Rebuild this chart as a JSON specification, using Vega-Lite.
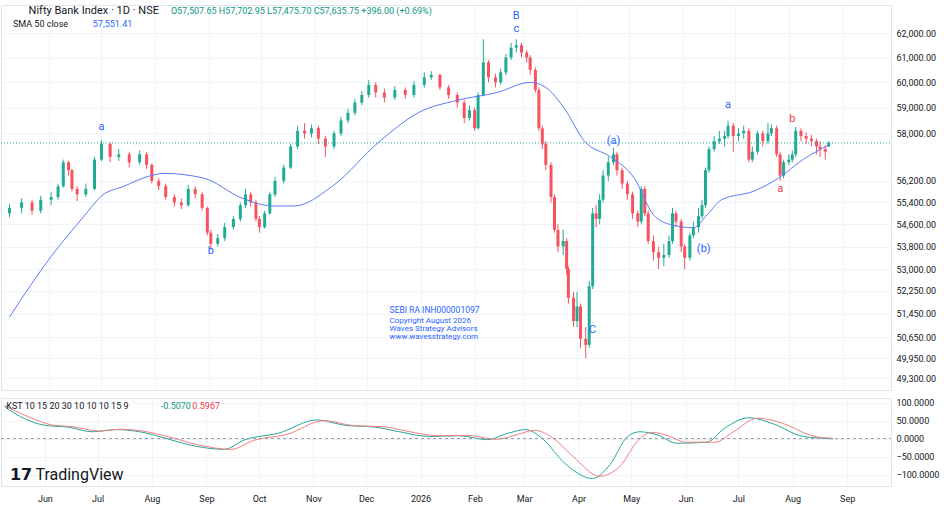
{
  "$schema": "https://vega.github.io/schema/vega-lite/v6.json",
  "padding": {"left": 0, "top": 4, "right": 0, "bottom": 0},
  "background": "white",
  "config": {
    "font": "Roboto",
    "view": {"stroke": "#e0e3eb"},
    "axis": {"gridColor": "#f0f3fa", "domain": false, "ticks": false, "labelColor": "#131722", "labelFontSize": 9, "title": null}
  },
  "datasets": {
    "candles": [
      {"d":"2025-05-09","o":55000,"h":55350,"l":54850,"c":55200},
      {"d":"2025-05-16","o":55200,"h":55550,"l":55000,"c":55400},
      {"d":"2025-05-22","o":55400,"h":55500,"l":54950,"c":55100},
      {"d":"2025-05-27","o":55100,"h":55650,"l":55000,"c":55500},
      {"d":"2025-06-02","o":55500,"h":55800,"l":55300,"c":55600},
      {"d":"2025-06-06","o":55600,"h":56100,"l":55500,"c":56000},
      {"d":"2025-06-09","o":56000,"h":57000,"l":55950,"c":56900},
      {"d":"2025-06-12","o":56900,"h":56950,"l":56400,"c":56600},
      {"d":"2025-06-14","o":56600,"h":56650,"l":55800,"c":55900},
      {"d":"2025-06-17","o":55900,"h":56000,"l":55450,"c":55700},
      {"d":"2025-06-22","o":55700,"h":56100,"l":55600,"c":55900},
      {"d":"2025-06-27","o":55900,"h":57100,"l":55850,"c":57000},
      {"d":"2025-07-01","o":57000,"h":57750,"l":56950,"c":57600},
      {"d":"2025-07-06","o":57600,"h":57650,"l":56900,"c":57100},
      {"d":"2025-07-11","o":57100,"h":57400,"l":56950,"c":57200},
      {"d":"2025-07-17","o":57200,"h":57300,"l":56700,"c":56900},
      {"d":"2025-07-23","o":56900,"h":57350,"l":56800,"c":57200},
      {"d":"2025-07-27","o":57200,"h":57300,"l":56650,"c":56800},
      {"d":"2025-07-30","o":56800,"h":56850,"l":56100,"c":56200},
      {"d":"2025-08-03","o":56200,"h":56300,"l":55850,"c":56000},
      {"d":"2025-08-07","o":56000,"h":56100,"l":55500,"c":55600},
      {"d":"2025-08-12","o":55600,"h":55700,"l":55250,"c":55400},
      {"d":"2025-08-16","o":55400,"h":55550,"l":55150,"c":55300},
      {"d":"2025-08-20","o":55300,"h":56050,"l":55250,"c":55900},
      {"d":"2025-08-24","o":55900,"h":56000,"l":55550,"c":55700},
      {"d":"2025-08-28","o":55700,"h":55800,"l":55100,"c":55200},
      {"d":"2025-08-31","o":55200,"h":55250,"l":54200,"c":54300},
      {"d":"2025-09-02","o":54300,"h":54400,"l":53700,"c":53900},
      {"d":"2025-09-06","o":53900,"h":54250,"l":53800,"c":54100},
      {"d":"2025-09-10","o":54100,"h":54650,"l":54000,"c":54500},
      {"d":"2025-09-15","o":54500,"h":54900,"l":54400,"c":54800},
      {"d":"2025-09-19","o":54800,"h":55400,"l":54700,"c":55300},
      {"d":"2025-09-22","o":55300,"h":55900,"l":55200,"c":55700},
      {"d":"2025-09-25","o":55700,"h":55800,"l":55250,"c":55400},
      {"d":"2025-09-28","o":55400,"h":55500,"l":54700,"c":54800},
      {"d":"2025-09-30","o":54800,"h":54900,"l":54300,"c":54500},
      {"d":"2025-10-03","o":54500,"h":55100,"l":54450,"c":55000},
      {"d":"2025-10-06","o":55000,"h":55800,"l":54950,"c":55700},
      {"d":"2025-10-09","o":55700,"h":56350,"l":55600,"c":56200},
      {"d":"2025-10-14","o":56200,"h":56800,"l":56100,"c":56700},
      {"d":"2025-10-18","o":56700,"h":57600,"l":56650,"c":57500},
      {"d":"2025-10-22","o":57500,"h":58300,"l":57400,"c":58100},
      {"d":"2025-10-26","o":58100,"h":58400,"l":57800,"c":58000},
      {"d":"2025-10-30","o":58000,"h":58350,"l":57850,"c":58200},
      {"d":"2025-11-03","o":58200,"h":58300,"l":57600,"c":57800},
      {"d":"2025-11-07","o":57800,"h":57900,"l":57100,"c":57500},
      {"d":"2025-11-12","o":57500,"h":58100,"l":57400,"c":58000},
      {"d":"2025-11-16","o":58000,"h":58650,"l":57900,"c":58500},
      {"d":"2025-11-20","o":58500,"h":58950,"l":58400,"c":58800},
      {"d":"2025-11-24","o":58800,"h":59350,"l":58700,"c":59200},
      {"d":"2025-11-28","o":59200,"h":59650,"l":59100,"c":59500},
      {"d":"2025-12-02","o":59500,"h":60100,"l":59400,"c":59900},
      {"d":"2025-12-06","o":59900,"h":60000,"l":59400,"c":59600},
      {"d":"2025-12-11","o":59600,"h":59750,"l":59200,"c":59400},
      {"d":"2025-12-17","o":59400,"h":59850,"l":59300,"c":59700},
      {"d":"2025-12-23","o":59700,"h":59800,"l":59350,"c":59500},
      {"d":"2025-12-28","o":59500,"h":60050,"l":59400,"c":59900},
      {"d":"2026-01-03","o":59900,"h":60400,"l":59800,"c":60200},
      {"d":"2026-01-07","o":60200,"h":60450,"l":60100,"c":60300},
      {"d":"2026-01-12","o":60300,"h":60350,"l":59700,"c":59800},
      {"d":"2026-01-17","o":59800,"h":59900,"l":59350,"c":59500},
      {"d":"2026-01-22","o":59500,"h":59600,"l":59000,"c":59200},
      {"d":"2026-01-26","o":59200,"h":59300,"l":58400,"c":58600},
      {"d":"2026-01-29","o":58600,"h":59100,"l":58500,"c":58900},
      {"d":"2026-02-01","o":58900,"h":59000,"l":58100,"c":58200},
      {"d":"2026-02-03","o":58200,"h":59600,"l":58150,"c":59500},
      {"d":"2026-02-06","o":59500,"h":61750,"l":59450,"c":60800},
      {"d":"2026-02-09","o":60800,"h":60900,"l":60000,"c":60200},
      {"d":"2026-02-13","o":60200,"h":60350,"l":59800,"c":60000},
      {"d":"2026-02-16","o":60000,"h":60550,"l":59900,"c":60400},
      {"d":"2026-02-19","o":60400,"h":61150,"l":60300,"c":61000},
      {"d":"2026-02-22","o":61000,"h":61600,"l":60900,"c":61400},
      {"d":"2026-02-25","o":61400,"h":61750,"l":61200,"c":61500},
      {"d":"2026-02-28","o":61500,"h":61600,"l":61000,"c":61200},
      {"d":"2026-03-03","o":61200,"h":61300,"l":60800,"c":61000},
      {"d":"2026-03-05","o":61000,"h":61100,"l":60300,"c":60500},
      {"d":"2026-03-08","o":60500,"h":60600,"l":59600,"c":59700},
      {"d":"2026-03-10","o":59700,"h":59800,"l":58100,"c":58200},
      {"d":"2026-03-12","o":58200,"h":58300,"l":57400,"c":57600},
      {"d":"2026-03-14","o":57600,"h":57700,"l":56600,"c":56800},
      {"d":"2026-03-17","o":56800,"h":56900,"l":55400,"c":55600},
      {"d":"2026-03-19","o":55600,"h":55700,"l":54300,"c":54400},
      {"d":"2026-03-21","o":54400,"h":54600,"l":53600,"c":53800},
      {"d":"2026-03-24","o":53800,"h":54400,"l":53500,"c":54000},
      {"d":"2026-03-26","o":54000,"h":54100,"l":52800,"c":53000},
      {"d":"2026-03-27","o":53000,"h":53100,"l":51800,"c":52000},
      {"d":"2026-03-30","o":52000,"h":52200,"l":51000,"c":51200},
      {"d":"2026-04-01","o":51200,"h":52200,"l":51000,"c":51700},
      {"d":"2026-04-03","o":51700,"h":51800,"l":50300,"c":50600},
      {"d":"2026-04-06","o":50600,"h":51000,"l":49950,"c":50400},
      {"d":"2026-04-08","o":50400,"h":52600,"l":50300,"c":52400},
      {"d":"2026-04-10","o":52400,"h":55200,"l":52300,"c":55000},
      {"d":"2026-04-12","o":55000,"h":55300,"l":54500,"c":54800},
      {"d":"2026-04-14","o":54800,"h":55700,"l":54600,"c":55500},
      {"d":"2026-04-16","o":55500,"h":56600,"l":55400,"c":56400},
      {"d":"2026-04-19","o":56400,"h":57100,"l":56200,"c":56900},
      {"d":"2026-04-22","o":56900,"h":57450,"l":56800,"c":57200},
      {"d":"2026-04-24","o":57200,"h":57300,"l":56400,"c":56600},
      {"d":"2026-04-27","o":56600,"h":56700,"l":55900,"c":56100},
      {"d":"2026-04-30","o":56100,"h":56200,"l":55500,"c":55700},
      {"d":"2026-05-03","o":55700,"h":55800,"l":54800,"c":55000},
      {"d":"2026-05-06","o":55000,"h":55100,"l":54500,"c":54700},
      {"d":"2026-05-08","o":54700,"h":56000,"l":54600,"c":55900},
      {"d":"2026-05-10","o":55900,"h":56000,"l":54900,"c":55000},
      {"d":"2026-05-12","o":55000,"h":55100,"l":53900,"c":54000},
      {"d":"2026-05-15","o":54000,"h":54200,"l":53300,"c":53600},
      {"d":"2026-05-18","o":53600,"h":53800,"l":53000,"c":53400},
      {"d":"2026-05-21","o":53400,"h":53900,"l":53100,"c":53500},
      {"d":"2026-05-24","o":53500,"h":54200,"l":53400,"c":54000},
      {"d":"2026-05-26","o":54000,"h":55200,"l":53900,"c":55000},
      {"d":"2026-05-28","o":55000,"h":55100,"l":54500,"c":54700},
      {"d":"2026-05-31","o":54700,"h":54800,"l":53600,"c":53800},
      {"d":"2026-06-02","o":53800,"h":53900,"l":53000,"c":53400},
      {"d":"2026-06-05","o":53400,"h":54300,"l":53300,"c":54200},
      {"d":"2026-06-07","o":54200,"h":54700,"l":54100,"c":54500},
      {"d":"2026-06-10","o":54500,"h":55200,"l":54300,"c":54900},
      {"d":"2026-06-12","o":54900,"h":55500,"l":54800,"c":55300},
      {"d":"2026-06-14","o":55300,"h":56700,"l":55200,"c":56600},
      {"d":"2026-06-16","o":56600,"h":57500,"l":56500,"c":57400},
      {"d":"2026-06-19","o":57400,"h":57900,"l":57300,"c":57700},
      {"d":"2026-06-22","o":57700,"h":58100,"l":57600,"c":57800},
      {"d":"2026-06-25","o":57800,"h":58100,"l":57500,"c":57900},
      {"d":"2026-06-27","o":57900,"h":58500,"l":57800,"c":58300},
      {"d":"2026-06-30","o":58300,"h":58400,"l":57300,"c":57900},
      {"d":"2026-07-03","o":57900,"h":58200,"l":57700,"c":58000},
      {"d":"2026-07-06","o":58000,"h":58300,"l":57800,"c":58100},
      {"d":"2026-07-09","o":58100,"h":58200,"l":56900,"c":57000},
      {"d":"2026-07-11","o":57000,"h":57500,"l":56900,"c":57300},
      {"d":"2026-07-14","o":57300,"h":58100,"l":57200,"c":58000},
      {"d":"2026-07-17","o":58000,"h":58100,"l":57500,"c":57700},
      {"d":"2026-07-20","o":57700,"h":58400,"l":57600,"c":58000},
      {"d":"2026-07-22","o":58000,"h":58350,"l":57900,"c":58200},
      {"d":"2026-07-25","o":58200,"h":58300,"l":57100,"c":57200},
      {"d":"2026-07-27","o":57200,"h":57300,"l":56200,"c":56400},
      {"d":"2026-07-29","o":56400,"h":57000,"l":56300,"c":56900},
      {"d":"2026-08-01","o":56900,"h":57200,"l":56800,"c":57000},
      {"d":"2026-08-03","o":57000,"h":57350,"l":56900,"c":57200},
      {"d":"2026-08-05","o":57200,"h":58250,"l":57100,"c":58100},
      {"d":"2026-08-08","o":58100,"h":58200,"l":57700,"c":57900},
      {"d":"2026-08-11","o":57900,"h":58050,"l":57600,"c":57800},
      {"d":"2026-08-14","o":57800,"h":57950,"l":57500,"c":57700},
      {"d":"2026-08-17","o":57700,"h":57800,"l":57200,"c":57500},
      {"d":"2026-08-19","o":57500,"h":57700,"l":57100,"c":57400},
      {"d":"2026-08-22","o":57400,"h":57550,"l":57000,"c":57300},
      {"d":"2026-08-24","o":57507.65,"h":57702.95,"l":57475.7,"c":57635.75}
    ],
    "sma": [
      {"d":"2025-05-09","v":51340},{"d":"2025-06-02","v":53450},{"d":"2025-06-21","v":54900},
      {"d":"2025-07-01","v":55640},{"d":"2025-07-14","v":56000},{"d":"2025-07-28","v":56370},
      {"d":"2025-08-06","v":56480},{"d":"2025-08-29","v":56300},{"d":"2025-09-20","v":55560},
      {"d":"2025-10-08","v":55270},{"d":"2025-10-20","v":55270},{"d":"2025-11-11","v":56000},
      {"d":"2025-12-08","v":57680},{"d":"2025-12-31","v":58820},{"d":"2026-01-22","v":59290},
      {"d":"2026-02-14","v":59600},{"d":"2026-03-05","v":60000},{"d":"2026-03-14","v":59800},
      {"d":"2026-03-25","v":58940},{"d":"2026-04-05","v":57720},{"d":"2026-04-20","v":57110},
      {"d":"2026-05-04","v":56300},{"d":"2026-05-15","v":54950},{"d":"2026-05-25","v":54590},
      {"d":"2026-06-07","v":54480},{"d":"2026-06-15","v":54950},{"d":"2026-06-23","v":55490},
      {"d":"2026-07-12","v":55820},{"d":"2026-07-26","v":56300},{"d":"2026-08-10","v":57040},
      {"d":"2026-08-24","v":57551.41}
    ],
    "kst": [
      {"d":"2025-05-09","s":"KST","v":89},{"d":"2025-05-21","s":"KST","v":54},{"d":"2025-06-01","s":"KST","v":37},
      {"d":"2025-06-14","s":"KST","v":32},{"d":"2025-06-28","s":"KST","v":19},{"d":"2025-07-11","s":"KST","v":25},
      {"d":"2025-07-25","s":"KST","v":19},{"d":"2025-08-08","s":"KST","v":2},{"d":"2025-08-22","s":"KST","v":-17},
      {"d":"2025-09-11","s":"KST","v":-30},{"d":"2025-09-23","s":"KST","v":-3},{"d":"2025-10-12","s":"KST","v":15},
      {"d":"2025-11-03","s":"KST","v":52},{"d":"2025-11-19","s":"KST","v":37},{"d":"2025-12-06","s":"KST","v":32},
      {"d":"2025-12-20","s":"KST","v":19},{"d":"2026-01-06","s":"KST","v":6},{"d":"2026-01-23","s":"KST","v":8},
      {"d":"2026-02-08","s":"KST","v":-3},{"d":"2026-02-20","s":"KST","v":15},{"d":"2026-03-02","s":"KST","v":25},
      {"d":"2026-03-12","s":"KST","v":-3},{"d":"2026-03-24","s":"KST","v":-68},{"d":"2026-04-09","s":"KST","v":-111},
      {"d":"2026-04-19","s":"KST","v":-72},{"d":"2026-04-29","s":"KST","v":6},{"d":"2026-05-06","s":"KST","v":19},
      {"d":"2026-05-16","s":"KST","v":10},{"d":"2026-05-27","s":"KST","v":-13},{"d":"2026-06-13","s":"KST","v":-10},
      {"d":"2026-06-23","s":"KST","v":28},{"d":"2026-07-07","s":"KST","v":58},{"d":"2026-07-21","s":"KST","v":41},
      {"d":"2026-08-07","s":"KST","v":6},{"d":"2026-08-24","s":"KST","v":-0.5},
      {"d":"2025-05-09","s":"Signal","v":92},{"d":"2025-05-24","s":"Signal","v":58},{"d":"2025-06-05","s":"Signal","v":38},
      {"d":"2025-06-17","s":"Signal","v":33},{"d":"2025-07-02","s":"Signal","v":21},{"d":"2025-07-14","s":"Signal","v":26},
      {"d":"2025-07-29","s":"Signal","v":19},{"d":"2025-08-12","s":"Signal","v":3},{"d":"2025-08-27","s":"Signal","v":-17},
      {"d":"2025-09-15","s":"Signal","v":-30},{"d":"2025-09-28","s":"Signal","v":-5},{"d":"2025-10-17","s":"Signal","v":12},
      {"d":"2025-11-07","s":"Signal","v":50},{"d":"2025-11-24","s":"Signal","v":36},{"d":"2025-12-11","s":"Signal","v":33},
      {"d":"2025-12-25","s":"Signal","v":20},{"d":"2026-01-11","s":"Signal","v":8},{"d":"2026-01-28","s":"Signal","v":9},
      {"d":"2026-02-13","s":"Signal","v":-2},{"d":"2026-02-25","s":"Signal","v":11},{"d":"2026-03-07","s":"Signal","v":23},
      {"d":"2026-03-17","s":"Signal","v":3},{"d":"2026-03-29","s":"Signal","v":-50},{"d":"2026-04-13","s":"Signal","v":-105},
      {"d":"2026-04-24","s":"Signal","v":-80},{"d":"2026-05-06","s":"Signal","v":0},{"d":"2026-05-13","s":"Signal","v":17},
      {"d":"2026-05-22","s":"Signal","v":8},{"d":"2026-06-01","s":"Signal","v":-10},{"d":"2026-06-18","s":"Signal","v":-10},
      {"d":"2026-06-28","s":"Signal","v":18},{"d":"2026-07-12","s":"Signal","v":57},{"d":"2026-07-26","s":"Signal","v":43},
      {"d":"2026-08-12","s":"Signal","v":8},{"d":"2026-08-24","s":"Signal","v":0.6}
    ],
    "waves": [
      {"d":"2025-07-01","p":58250,"t":"a","col":"#2962ff"},
      {"d":"2025-09-02","p":53650,"t":"b","col":"#2962ff"},
      {"d":"2026-02-25","p":62700,"t":"B","col":"#2962ff"},
      {"d":"2026-02-25","p":62150,"t":"c","col":"#2962ff"},
      {"d":"2026-04-22","p":57700,"t":"(a)","col":"#2962ff"},
      {"d":"2026-04-10","p":50900,"t":"C","col":"#2962ff"},
      {"d":"2026-06-13","p":53700,"t":"(b)","col":"#2962ff"},
      {"d":"2026-06-27","p":59100,"t":"a","col":"#2962ff"},
      {"d":"2026-08-03","p":58550,"t":"b","col":"#f23645"},
      {"d":"2026-07-27","p":55900,"t":"a","col":"#f23645"}
    ],
    "notes": [
      {"d":"2025-12-14","p":51570,"t":"SEBI RA INH000001097","col":"#2962ff","sz":8.5,"w":"bold"},
      {"d":"2025-12-14","p":51200,"t":"Copyright August 2026","col":"#2962ff","sz":8,"w":"bold"},
      {"d":"2025-12-14","p":50930,"t":"Waves Strategy Advisors","col":"#2962ff","sz":8,"w":"bold"},
      {"d":"2025-12-14","p":50660,"t":"www.wavesstrategy.com","col":"#2962ff","sz":8,"w":"bold"},
      {"d":"2025-05-20","p":62930,"t":"Nifty Bank Index · 1D · NSE","col":"#131722","sz":11,"w":"normal"},
      {"d":"2025-08-10","p":62930,"t":"O57,507.65  H57,702.95  L57,475.70  C57,635.75  +396.00 (+0.69%)","col":"#089981","sz":9,"w":"normal"},
      {"d":"2025-05-11","p":62380,"t":"SMA 50 close","col":"#131722","sz":9,"w":"normal"},
      {"d":"2025-06-26","p":62380,"t":"57,551.41","col":"#2962ff","sz":9,"w":"normal"}
    ],
    "knotes": [
      {"d":"2025-05-10","v":92,"t":"KST 10 15 20 30 10 10 10 15 9","col":"#131722","sz":9,"w":"normal"},
      {"d":"2025-08-06","v":92,"t":"-0.5070","col":"#089981","sz":9,"w":"normal"},
      {"d":"2025-08-24","v":92,"t":"0.5967","col":"#f23645","sz":9,"w":"normal"},
      {"d":"2025-05-12","v":-102,"t":"𝟭𝟳 TradingView","col":"#131722","sz":16,"w":"bold"}
    ]
  },
  "vconcat": [
    {
      "width": 890,
      "height": 385,
      "encoding": {
        "x": {"field": "d", "type": "temporal", "scale": {"domain": [{"year":2025,"month":5,"date":7},{"year":2026,"month":9,"date":26}]}, "axis": {"labels": false, "grid": true, "tickCount": {"interval": "month", "step": 1}}},
        "y": {"type": "quantitative", "scale": {"type": "log", "domain": [48910, 63166], "nice": false, "zero": false}, "axis": {"orient": "right", "grid": true, "values": [49300,49950,50650,51450,52250,53000,53800,54600,55400,56200,58000,59000,60000,61000,62000], "format": ",.2f", "labelPadding": 5}}
      },
      "layer": [
        {
          "data": {"name": "candles"},
          "mark": {"type": "rule", "strokeWidth": 1},
          "encoding": {
            "y": {"field": "l"},
            "y2": {"field": "h"},
            "color": {"condition": {"test": "datum.c >= datum.o", "value": "#22ab94"}, "value": "#f7525f"}
          }
        },
        {
          "data": {"name": "candles"},
          "mark": {"type": "bar", "size": 3},
          "encoding": {
            "y": {"field": "o"},
            "y2": {"field": "c"},
            "color": {"condition": {"test": "datum.c >= datum.o", "value": "#22ab94"}, "value": "#f7525f"}
          }
        },
        {
          "data": {"name": "sma"},
          "mark": {"type": "line", "color": "#5b7cf6", "strokeWidth": 1, "interpolate": "monotone"},
          "encoding": {"y": {"field": "v"}}
        },
        {
          "data": {"values": [{"v": 57635.75}]},
          "mark": {"type": "rule", "color": "#22ab94", "strokeDash": [1, 2], "strokeWidth": 1},
          "encoding": {"x": {"value": 0}, "x2": {"value": 890}, "y": {"field": "v"}}
        },
        {
          "data": {"name": "waves"},
          "mark": {"type": "text", "baseline": "middle", "align": "center", "fontSize": 11},
          "encoding": {
            "y": {"field": "p"},
            "text": {"field": "t"},
            "color": {"field": "col", "type": "nominal", "scale": null}
          }
        },
        {
          "data": {"name": "notes"},
          "mark": {"type": "text", "baseline": "middle", "align": "left"},
          "encoding": {
            "y": {"field": "p"},
            "text": {"field": "t"},
            "color": {"field": "col", "type": "nominal", "scale": null},
            "size": {"field": "sz", "type": "quantitative", "scale": null},
            "fontWeight": {"field": "w", "type": "nominal", "scale": null}
          }
        }
      ]
    },
    {
      "width": 890,
      "height": 88,
      "encoding": {
        "x": {"field": "d", "type": "temporal", "scale": {"domain": [{"year":2025,"month":5,"date":7},{"year":2026,"month":9,"date":26}]}, "axis": {"grid": true, "tickCount": {"interval": "month", "step": 1}, "labelExpr": "month(datum.value) == 0 ? timeFormat(datum.value, '%Y') : timeFormat(datum.value, '%b')", "labelPadding": 8}},
        "y": {"field": "v", "type": "quantitative", "scale": {"domain": [-132, 113], "nice": false}, "axis": {"orient": "right", "grid": true, "values": [-100, -50, 0, 50, 100], "format": ".4f", "labelPadding": 5}}
      },
      "layer": [
        {
          "data": {"name": "kst"},
          "mark": {"type": "line", "strokeWidth": 1, "interpolate": "monotone"},
          "encoding": {
            "color": {"field": "s", "type": "nominal", "scale": {"domain": ["KST", "Signal"], "range": ["#26a69a", "#f57f7f"]}, "legend": null}
          }
        },
        {
          "data": {"values": [{"v": 0}]},
          "mark": {"type": "rule", "color": "#9598a1", "strokeDash": [3, 3]},
          "encoding": {"x": {"value": 0}, "x2": {"value": 890}}
        },
        {
          "data": {"name": "knotes"},
          "mark": {"type": "text", "align": "left", "baseline": "middle"},
          "encoding": {
            "text": {"field": "t"},
            "color": {"field": "col", "type": "nominal", "scale": null},
            "size": {"field": "sz", "type": "quantitative", "scale": null},
            "fontWeight": {"field": "w", "type": "nominal", "scale": null}
          }
        }
      ]
    }
  ],
  "spacing": 6
}
